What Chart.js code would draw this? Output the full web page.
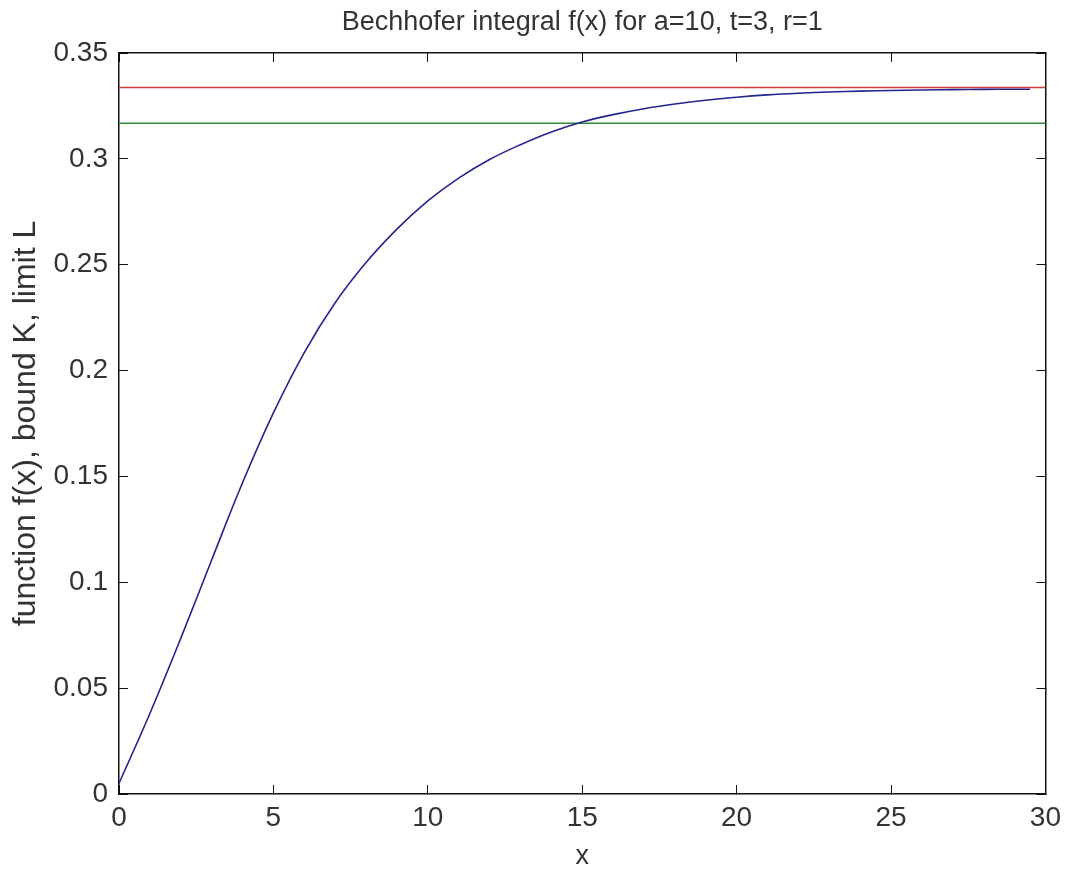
<!DOCTYPE html>
<html>
<head>
<meta charset="utf-8" />
<title>Bechhofer integral</title>
<style>
	html,
	body {
		margin: 0;
		padding: 0;
		background: #fff;
	}
	canvas {
		display: block;
	}
</style>
</head>
<body>
<canvas id="bechhofer-chart" width="1077" height="873"></canvas>
<script src="https://cdn.jsdelivr.net/npm/chart.js"></script>
<script>
// values
const xValues = [
	0, 1, 2, 3, 4, 5, 6, 7, 8, 9, 10, 11, 12, 13, 14, 15, 16, 17, 18, 19, 20, 21,
	22, 23, 24, 25, 26, 27, 28, 29, 29.5,
]
const fValues = [
	0.005, 0.038, 0.0735, 0.1105, 0.147, 0.18, 0.2085, 0.232, 0.251, 0.2668,
	0.2801, 0.2909, 0.2997, 0.3067, 0.3127, 0.3174, 0.3209, 0.3237, 0.3259,
	0.3277, 0.3291, 0.3302, 0.331, 0.3316, 0.332, 0.3323, 0.3325, 0.3327, 0.3328,
	0.3329, 0.3329,
]
const boundK = 0.3168
const limitL = 0.3337
const xTicks = [0, 5, 10, 15, 20, 25, 30]
const yTicks = [0, 0.05, 0.1, 0.15, 0.2, 0.25, 0.3, 0.35]

const titleText = 'Bechhofer integral f(x) for a=10, t=3, r=1'
const xTitle = 'x'
const yTitle = 'function f(x), bound K, limit L'

Chart.defaults.font.family = "'Liberation Sans', Arial, sans-serif"
Chart.defaults.color = '#333'

const xFirst = xTicks[0]
const xLast = xTicks[xTicks.length - 1]

const setTicks = list => scale => {
	scale.ticks = list.map(v => ({ value: v }))
}

const frameGrid = {
	drawOnChartArea: false,
	drawTicks: true,
	tickLength: -9,
	color: '#111',
	lineWidth: 1,
}
const frameBorder = {
	display: true,
	color: '#111',
	width: 1.5,
}

const chartData = {
	datasets: [
		{
			label: 'f(x)',
			data: xValues.map((x, i) => ({ x: x, y: fValues[i] })),
			borderColor: '#24248c',
			borderWidth: 1.6,
			pointRadius: 0,
			tension: 0.4,
		},
		{
			label: 'K',
			data: [
				{ x: xFirst, y: boundK },
				{ x: xLast, y: boundK },
			],
			borderColor: '#2e8b3a',
			borderWidth: 1.5,
			pointRadius: 0,
		},
		{
			label: 'L',
			data: [
				{ x: xFirst, y: limitL },
				{ x: xLast, y: limitL },
			],
			borderColor: '#d23a3a',
			borderWidth: 1.5,
			pointRadius: 0,
		},
	],
}

const config = {
	type: 'line',
	data: chartData,
	options: {
		responsive: false,
		animation: false,
		layout: { padding: 0 },
		plugins: {
			legend: { display: false },
			tooltip: { enabled: false },
		},
		scales: {
			x: {
				type: 'linear',
				position: 'bottom',
				min: xFirst,
				max: xLast,
				afterBuildTicks: setTicks(xTicks),
				afterFit: scale => {
					scale.height = 79
				},
				grid: frameGrid,
				border: frameBorder,
				ticks: {
					font: { size: 28 },
					padding: 16,
					maxRotation: 0,
					callback: v => String(v),
				},
				title: {
					display: true,
					text: xTitle,
					font: { size: 27, lineHeight: 1.2 },
					padding: { top: 0, bottom: 0 },
				},
			},
			x2: {
				type: 'linear',
				position: 'top',
				min: xFirst,
				max: xLast,
				afterBuildTicks: setTicks(xTicks),
				afterFit: scale => {
					scale.height = 53
				},
				grid: frameGrid,
				border: frameBorder,
				ticks: { display: false },
				title: {
					display: true,
					text: titleText,
					font: { size: 27, lineHeight: 1.2 },
					padding: { top: 6, bottom: 0 },
				},
			},
			y: {
				type: 'linear',
				position: 'left',
				min: yTicks[0],
				max: yTicks[yTicks.length - 1],
				afterBuildTicks: setTicks(yTicks),
				afterFit: scale => {
					scale.width = 119
				},
				grid: frameGrid,
				border: frameBorder,
				ticks: {
					font: { size: 28 },
					padding: 20,
					callback: v => String(v),
				},
				title: {
					display: true,
					text: yTitle,
					font: { size: 32, lineHeight: 1.2 },
					padding: { top: 7, bottom: 0 },
				},
			},
			y2: {
				type: 'linear',
				position: 'right',
				min: yTicks[0],
				max: yTicks[yTicks.length - 1],
				afterBuildTicks: setTicks(yTicks),
				afterFit: scale => {
					scale.width = 19
				},
				grid: frameGrid,
				border: frameBorder,
				ticks: { display: false },
			},
		},
	},
}

const canvaRef = document.querySelector('#bechhofer-chart')

const bechhoferChart = new Chart(canvaRef, config)
</script>
</body>
</html>
